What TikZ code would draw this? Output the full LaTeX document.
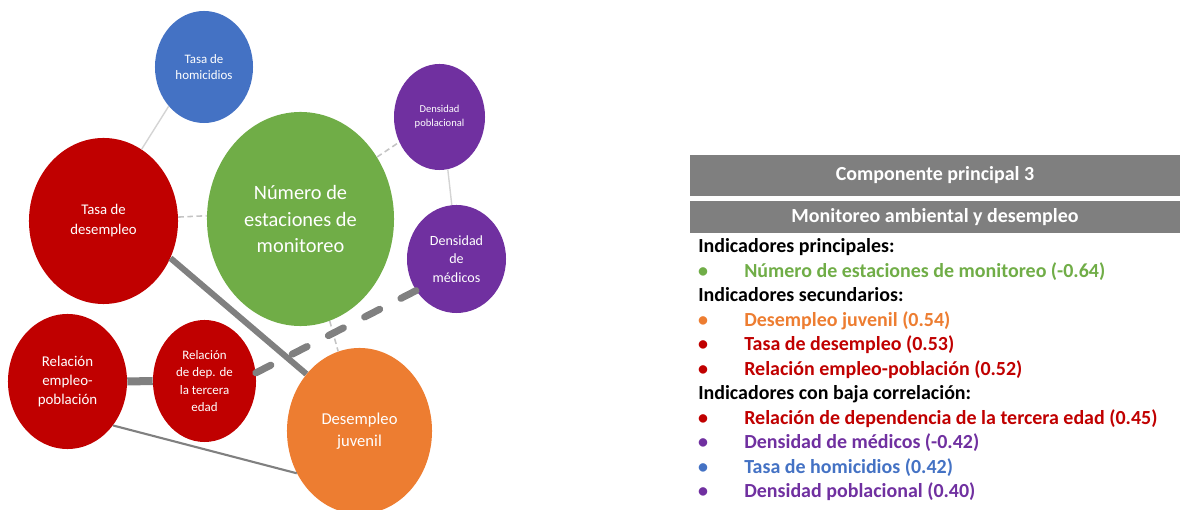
\documentclass[tikz,border=0pt]{standalone}
\usepackage{fontspec}
\setmainfont{Carlito}
\usetikzlibrary{positioning,shapes.geometric}
\definecolor{pcgreen}{HTML}{70AD47}
\definecolor{pcred}{HTML}{C00000}
\definecolor{pcblue}{HTML}{4472C4}
\definecolor{pcpurple}{HTML}{7030A0}
\definecolor{pcorange}{HTML}{ED7D31}
\definecolor{bargray}{HTML}{7F7F7F}
\definecolor{linegray}{HTML}{808080}
\definecolor{lightline}{HTML}{D4D4D4}
\definecolor{dashline}{HTML}{C4C4C4}
\tikzset{
	bubble/.style={ellipse,inner sep=0pt,draw=none},
	bubbletext/.style={text=white,align=center,inner sep=0pt},
	weak/.style={draw=lightline,line width=1pt},
	weak dashed/.style={draw=dashline,line width=1.1pt,dash pattern=on 4pt off 2.5pt},
	strong/.style={draw=linegray,line width=4.3pt},
	strong dashed/.style={draw=linegray,line width=5pt,line cap=round,dash pattern=on 12pt off 17pt},
	medium/.style={draw=linegray,line width=1.5pt},
	tablefont/.style={font=\bfseries\fontsize{14.2}{17}\selectfont},
	bar/.style={tablefont,fill=bargray,text=white,minimum width=12.25cm,inner sep=0pt},
	heading/.style={tablefont,anchor=base west,inner sep=0pt},
	bullet/.style={tablefont,anchor=base,inner sep=0pt}
}

\begin{document}
\begin{tikzpicture}[x=0.025cm,y=-0.025cm]
	\useasboundingbox (0,0) rectangle (1180,510);
	
	% bubbles
	\node[bubble,fill=pcblue,minimum width=2.45cm,minimum height=2.8cm,
		label={[bubbletext,font=\fontsize{9.2}{12}\selectfont]center:{Tasa de\\homicidios}}] (hom) at (204,67) {};
	\node[bubble,fill=pcred,minimum width=3.725cm,minimum height=4.15cm,
		label={[bubbletext,font=\fontsize{10.5}{14.2}\selectfont]center:{Tasa de\\desempleo}}] (tdes) at (103.5,221) {};
	\node[bubble,fill=pcgreen,minimum width=4.675cm,minimum height=5.35cm,
		label={[bubbletext,font=\fontsize{14.5}{18.9}\selectfont]center:{Número de\\estaciones de\\monitoreo}}] (num) at (300.5,219) {};
	\node[bubble,fill=pcpurple,minimum width=2.275cm,minimum height=2.65cm,
		label={[bubbletext,font=\fontsize{7.5}{9.9}\selectfont]center:{Densidad\\poblacional}}] (dpob) at (439.5,117) {};
	\node[bubble,fill=pcpurple,minimum width=2.475cm,minimum height=2.7cm,
		label={[bubbletext,font=\fontsize{10}{13.2}\selectfont]center:{Densidad\\de\\médicos}}] (dmed) at (456.5,259) {};
	\node[bubble,fill=pcred,minimum width=2.975cm,minimum height=3.375cm,
		label={[bubbletext,font=\fontsize{10.6}{13.8}\selectfont]center:{Relación\\empleo-\\población}}] (remp) at (67.5,381.5) {};
	\node[bubble,fill=pcred,minimum width=2.575cm,minimum height=3.05cm,
		label={[bubbletext,font=\fontsize{9.2}{12.3}\selectfont]center:{Relación\\de dep. de\\la tercera\\edad}}] (rdep) at (204.5,381) {};
	\node[bubble,fill=pcorange,minimum width=3.625cm,minimum height=4.15cm,
		label={[bubbletext,font=\fontsize{11.8}{15.4}\selectfont]center:{Desempleo\\juvenil}}] (djuv) at (359.5,431) {};
	
	% links
	\draw[weak] (hom.228) -- (tdes.62);
	\draw[weak dashed] (tdes.3) -- (num.178);
	\draw[weak dashed] (num.39) -- (dpob.212);
	\draw[weak] (dpob.279) -- (dmed.95);
	\draw[weak dashed] (num.286) -- (djuv.105);
	\draw[strong] (tdes.331) -- (djuv.133);
	\draw[strong dashed] (rdep.9) -- (dmed.218);
	\draw[strong,line width=5.7pt] (remp.east) -- (rdep.west);
	\draw[medium] (remp.316) -- (djuv.214);
	
	% table
	\node[bar,minimum height=1.025cm] (title) at (935,175.5) {Componente principal 3};
	\node[bar,minimum height=0.8cm] (subtitle) at (935,217) {Monitoreo ambiental y desempleo};
	
	\node[heading] (h1) at (698,253) {Indicadores principales:};
	\node[bullet,text=pcgreen] (b1) at (703,277.5) {•};
	\node[heading,text=pcgreen] (i1) at (744,277.5) {Número de estaciones de monitoreo (-0.64)};
	\node[heading] (h2) at (698,302) {Indicadores secundarios:};
	\node[bullet,text=pcorange] (b2) at (703,326.5) {•};
	\node[heading,text=pcorange] (i2) at (744,326.5) {Desempleo juvenil (0.54)};
	\node[bullet,text=pcred] (b3) at (703,351) {•};
	\node[heading,text=pcred] (i3) at (744,351) {Tasa de desempleo (0.53)};
	\node[bullet,text=pcred] (b4) at (703,375.5) {•};
	\node[heading,text=pcred] (i4) at (744,375.5) {Relación empleo-población (0.52)};
	\node[heading] (h3) at (698,400) {Indicadores con baja correlación:};
	\node[bullet,text=pcred] (b5) at (703,424.5) {•};
	\node[heading,text=pcred] (i5) at (744,424.5) {Relación de dependencia de la tercera edad (0.45)};
	\node[bullet,text=pcpurple] (b6) at (703,449) {•};
	\node[heading,text=pcpurple] (i6) at (744,449) {Densidad de médicos (-0.42)};
	\node[bullet,text=pcblue] (b7) at (703,473.5) {•};
	\node[heading,text=pcblue] (i7) at (744,473.5) {Tasa de homicidios (0.42)};
	\node[bullet,text=pcpurple] (b8) at (703,498) {•};
	\node[heading,text=pcpurple] (i8) at (744,498) {Densidad poblacional (0.40)};
\end{tikzpicture}
\end{document}
